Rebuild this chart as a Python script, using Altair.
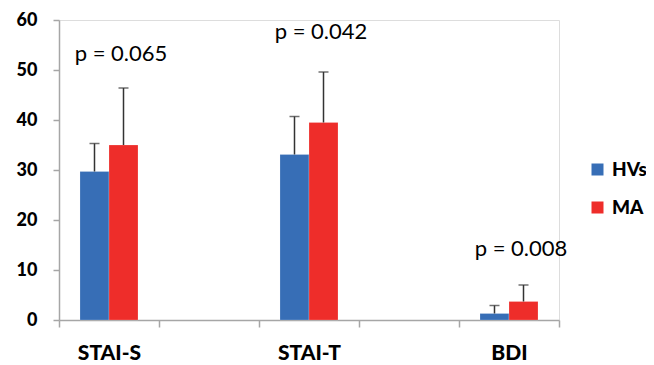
import altair as alt
import pandas as pd

categories = ["STAI-S", " ", "STAI-T", "  ", "BDI"]
measures = ["STAI-S", "STAI-T", "BDI"]
groups = ["HVs", "MA"]
hv_mean = [29.7, 33.1, 1.3]
hv_err = [5.6, 7.6, 1.6]
ma_mean = [35.0, 39.5, 3.7]
ma_err = [11.4, 10.1, 3.3]
p_labels = ["p = 0.065", "p = 0.042", "p = 0.008"]
p_y = [53.2, 57.6, 14.3]
colors = ["#376EB6", "#EE2D2A"]

rows = []
for i, m in enumerate(measures):
    rows.append({"cat": m, "group": "HVs", "value": hv_mean[i], "upper": hv_mean[i] + hv_err[i]})
    rows.append({"cat": m, "group": "MA", "value": ma_mean[i], "upper": ma_mean[i] + ma_err[i]})
df = pd.DataFrame(rows)
pdf = pd.DataFrame({"cat": measures, "label": p_labels, "y": p_y})

FONT = "Lato"
xscale = alt.Scale(domain=categories, paddingInner=0, paddingOuter=0)
yscale = alt.Scale(domain=[0, 60])
offscale = alt.Scale(domain=groups, paddingInner=0, paddingOuter=0.724)

x_axis = alt.Axis(title=None, labelAngle=0, tickBand="extent", tickSize=7,
                  labelFontSize=21, labelFontWeight=900, labelFont=FONT,
                  labelColor="black", labelPadding=15, domainColor="#A6A6A6",
                  tickColor="#A6A6A6", domainWidth=1.5, tickWidth=1.5)
y_axis = alt.Axis(title=None, values=[0, 10, 20, 30, 40, 50, 60], grid=False,
                  tickSize=6, labelFontSize=18, labelFontWeight=900, labelFont=FONT,
                  labelColor="black", labelPadding=16, domainColor="#A6A6A6",
                  tickColor="#A6A6A6", domainWidth=1.5, tickWidth=1.5)

base = alt.Chart(df)
bars = base.mark_bar(stroke="white", strokeWidth=0.5, strokeOpacity=0.4).encode(
    x=alt.X("cat:N", scale=xscale, axis=x_axis, sort=categories),
    xOffset=alt.XOffset("group:N", scale=offscale),
    y=alt.Y("value:Q", scale=yscale, axis=y_axis),
    color=alt.Color("group:N", scale=alt.Scale(domain=groups, range=colors),
                    legend=alt.Legend(title=None, orient="none", legendX=529, legendY=140,
                                      symbolType="square", symbolSize=144, symbolStrokeWidth=0,
                                      labelFontSize=19, labelFontWeight=900, labelFont=FONT,
                                      labelColor="black", rowPadding=18, padding=0, labelOffset=5)),
)
err = base.mark_rule(color="#333333", strokeWidth=1.5).encode(
    x=alt.X("cat:N", scale=xscale, sort=categories),
    xOffset=alt.XOffset("group:N", scale=offscale),
    y=alt.Y("value:Q", scale=yscale),
    y2="upper:Q",
)
caps = base.mark_tick(color="#333333", thickness=1.5, size=10, orient="horizontal").encode(
    x=alt.X("cat:N", scale=xscale, sort=categories),
    xOffset=alt.XOffset("group:N", scale=offscale),
    y=alt.Y("upper:Q", scale=yscale),
)
ptext = alt.Chart(pdf).mark_text(fontSize=22, font=FONT, color="black", dx=12, baseline="middle").encode(
    x=alt.X("cat:N", scale=xscale, sort=categories),
    y=alt.Y("y:Q", scale=yscale),
    text="label:N",
)

chart = alt.layer(bars, err, caps, ptext).properties(
    width=500, height=300,
    autosize=alt.AutoSizeParams(type="none"),
    padding={"left": 51, "top": 12, "right": 87, "bottom": 45},
).configure_view(stroke=None).configure(background="white")

chart.save("out.html", embed_options={"renderer": "svg", "actions": False})
